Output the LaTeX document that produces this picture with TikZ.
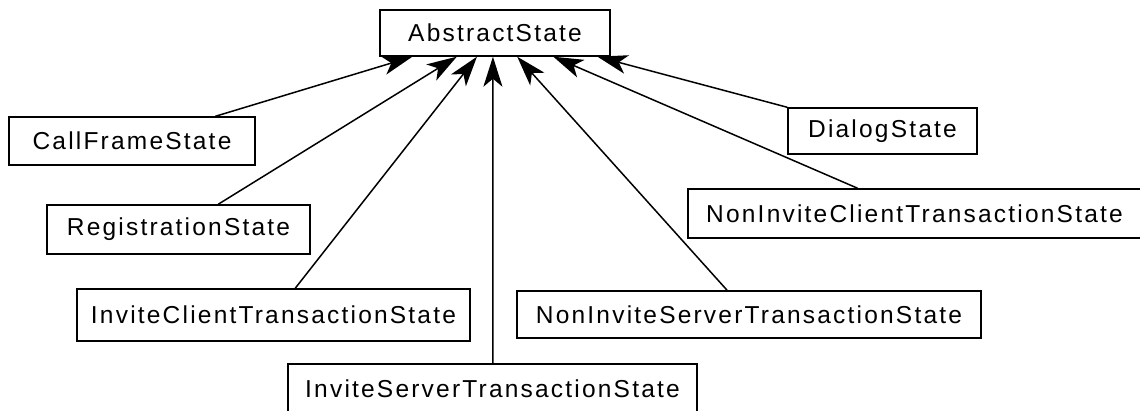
\documentclass[tikz,border=0pt]{standalone}
\usepackage{fontspec}
\setmainfont{Liberation Sans}[LetterSpace=9]
\usetikzlibrary{arrows.meta,calc}

\begin{document}
\begin{tikzpicture}[x=1pt,y=-1pt,
  cls/.style={draw=black, line width=1.4pt, fill=white, inner sep=0pt,
    font=\fontsize{24.5}{28}\selectfont, text=black},
  inherit/.style={line width=1.5pt, -{Stealth[length=30pt,width=19pt,inset=8pt]}},
]
\useasboundingbox (0,0) rectangle (1140,410);

% class boxes
\node[cls, minimum width=230pt, minimum height=46pt] (abs)  at (495,33)    {AbstractState};
\node[cls, minimum width=246pt, minimum height=48pt] (cfs)  at (132,141)   {CallFrameState};
\node[cls, minimum width=263pt, minimum height=49pt] (reg)  at (178.5,229.5) {RegistrationState};
\node[cls, minimum width=189pt, minimum height=46pt] (dlg)  at (882.5,131) {DialogState};
\node[cls, minimum width=453pt, minimum height=49pt] (nict) at (914.5,213.5) {NonInviteClientTransactionState};
\node[cls, minimum width=393pt, minimum height=52pt] (ict)  at (273.5,315) {InviteClientTransactionState};
\node[cls, minimum width=464pt, minimum height=47pt] (nist) at (749,314.5) {NonInviteServerTransactionState};
\node[cls, minimum width=409pt, minimum height=50pt] (ist)  at (492.5,389) {InviteServerTransactionState};

% generalisation arrows into AbstractState
\draw[inherit] ($(cfs.north west)!0.837!(cfs.north east)$)   -- ($(abs.south west)!0.143!(abs.south east)$);
\draw[inherit] ($(reg.north west)!0.650!(reg.north east)$)   -- ($(abs.south west)!0.335!(abs.south east)$);
\draw[inherit] ($(ict.north west)!0.555!(ict.north east)$)   -- ($(abs.south west)!0.422!(abs.south east)$);
\draw[inherit] ($(ist.north west)!0.501!(ist.north east)$)   -- ($(abs.south west)!0.491!(abs.south east)$);
\draw[inherit] ($(nist.north west)!0.453!(nist.north east)$) -- ($(abs.south west)!0.596!(abs.south east)$);
\draw[inherit] ($(nict.north west)!0.375!(nict.north east)$) -- ($(abs.south west)!0.752!(abs.south east)$);
\draw[inherit] (dlg.north west) -- ($(abs.south west)!0.943!(abs.south east)$);
\end{tikzpicture}
\end{document}
